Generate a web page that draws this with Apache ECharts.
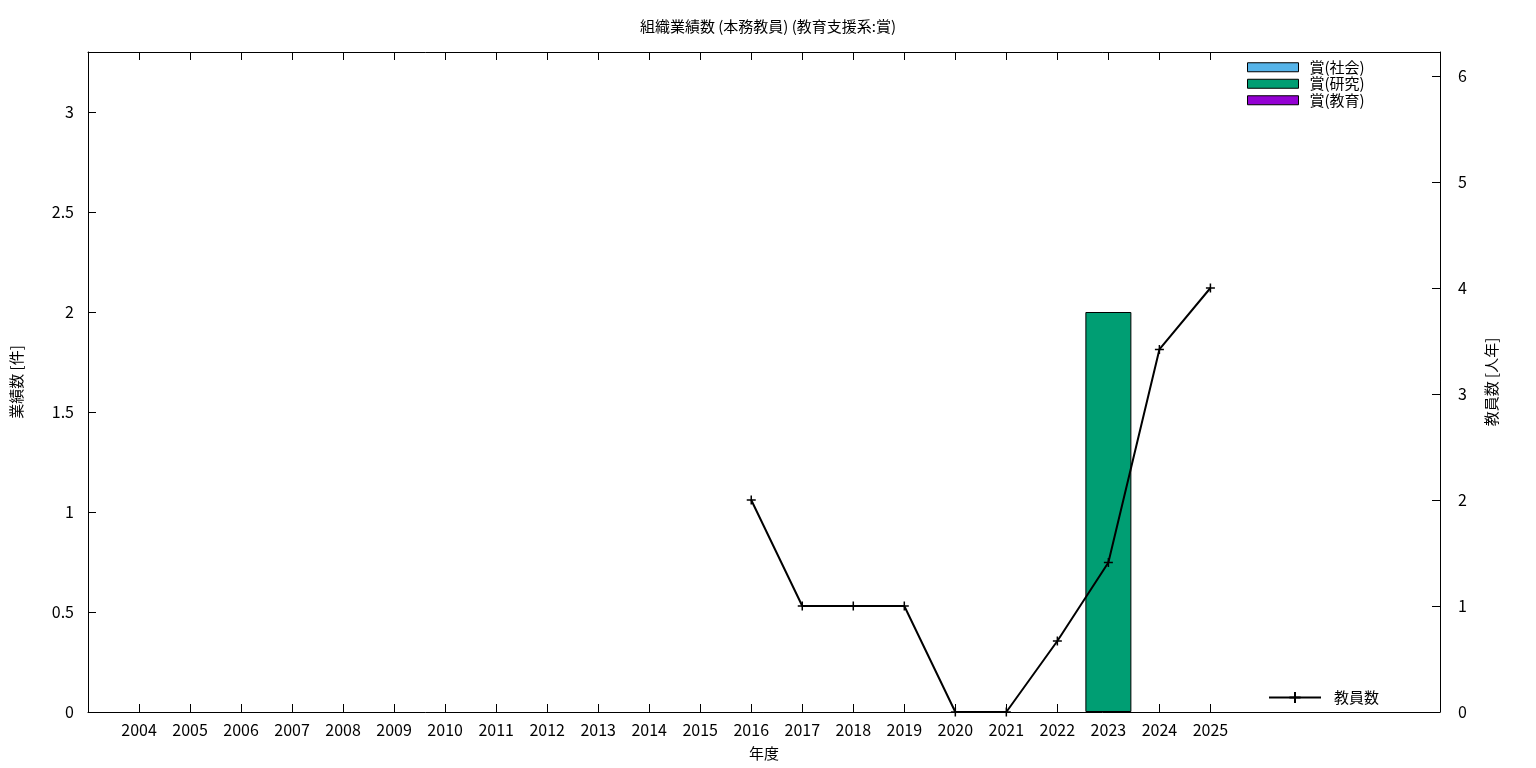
<!DOCTYPE html>
<html>
<head>
<meta charset="utf-8">
<script src="https://cdn.jsdelivr.net/npm/echarts@6/dist/echarts.min.js"></script>
<style>html,body{margin:0;padding:0;background:#fff;}#c{width:1536px;height:768px;}</style>
</head>
<body>
<div id="c"></div>
<script>
const years = [2004,2005,2006,2007,2008,2009,2010,2011,2012,2013,2014,2015,2016,2017,2018,2019,2020,2021,2022,2023,2024,2025];
const awardSocial   = [0,0,0,0,0,0,0,0,0,0,0,0,0,0,0,0,0,0,0,0,0,0];
const awardResearch = [0,0,0,0,0,0,0,0,0,0,0,0,0,0,0,0,0,0,0,2,0,0];
const awardEducation= [0,0,0,0,0,0,0,0,0,0,0,0,0,0,0,0,0,0,0,0,0,0];
const staffYears    = [null,null,null,null,null,null,null,null,null,null,null,null,2,1,1,1,0,0,0.67,1.41,3.42,4];
const leftTicks = [0,0.5,1,1.5,2,2.5,3];
const rightTicks = [0,1,2,3,4,5,6];

const FONT = '"Noto Sans CJK JP", "Noto Sans", sans-serif';
const pair = arr => years.map((y,i)=> arr[i] ? [y, arr[i]] : null).filter(d=>d);
const barSeries = (name, arr, color) => ({
  name, type:'bar', stack:'a', xAxisIndex:0, yAxisIndex:0, barWidth:46,
  data: pair(arr), itemStyle:{color, borderColor:'#000', borderWidth:1}
});

const chart = echarts.init(document.getElementById('c'));
chart.setOption({
  animation:false,
  textStyle:{fontFamily:FONT},
  title:{text:'組織業績数 (本務教員) (教育支援系:賞)', left:'center', top:14,
    textStyle:{fontSize:15, fontWeight:'normal', color:'#000', fontFamily:FONT}},
  grid:{left:88, right:96, top:52, bottom:56},
  legend:[
    {data:['賞(社会)','賞(研究)','賞(教育)'], orient:'vertical', left:1247, top:59, padding:0,
     itemWidth:51, itemHeight:9, itemGap:0, icon:'rect',
     itemStyle:{borderWidth:1, borderColor:'#000'},
     textStyle:{fontSize:15, lineHeight:16.5, color:'#000', fontFamily:FONT, padding:[0,0,0,6]}},
    {data:['教員数'], left:1268, top:690, padding:0, itemWidth:52, itemHeight:14,
     textStyle:{fontSize:15, color:'#000', fontFamily:FONT, padding:[0,0,0,8]}}
  ],
  xAxis:[
    {type:'value', min:2003, max:2029.5, interval:1, position:'bottom',
     name:'年度', nameLocation:'middle', nameGap:34,
     nameTextStyle:{fontSize:15, color:'#000', fontFamily:FONT},
     axisLine:{onZero:false, lineStyle:{color:'#000', width:1}},
     axisTick:{inside:true, length:8, customValues:years, lineStyle:{color:'#000'}},
     axisLabel:{customValues:years, formatter:v=>String(v), fontSize:16, color:'#000', margin:10, fontFamily:FONT},
     splitLine:{show:false}},
    {type:'value', min:2003, max:2029.5, interval:1, position:'top',
     axisLine:{show:true, onZero:false, lineStyle:{color:'#000', width:1}},
     axisTick:{show:true, inside:true, length:8, customValues:years, lineStyle:{color:'#000'}},
     axisLabel:{show:false}, splitLine:{show:false}}
  ],
  yAxis:[
    {type:'value', min:0, max:3.3, interval:0.5, position:'left',
     name:'業績数 [件]', nameLocation:'middle', nameGap:64, nameRotate:90,
     nameTextStyle:{fontSize:15, color:'#000', fontFamily:FONT},
     axisLine:{show:true, onZero:false, lineStyle:{color:'#000', width:1}},
     axisTick:{show:true, inside:true, length:8, customValues:leftTicks, lineStyle:{color:'#000'}},
     axisLabel:{customValues:leftTicks, formatter:v=>String(v), fontSize:16, color:'#000', margin:14, fontFamily:FONT},
     splitLine:{show:false}},
    {type:'value', min:0, max:660/106, interval:1, position:'right',
     name:'教員数 [人年]', nameLocation:'middle', nameGap:44, nameRotate:90,
     nameTextStyle:{fontSize:15, color:'#000', fontFamily:FONT},
     axisLine:{show:true, onZero:false, lineStyle:{color:'#000', width:1}},
     axisTick:{show:true, inside:true, length:8, customValues:rightTicks, lineStyle:{color:'#000'}},
     axisLabel:{customValues:rightTicks, formatter:v=>String(v), fontSize:16, color:'#000', margin:18, fontFamily:FONT},
     splitLine:{show:false}}
  ],
  series:[
    barSeries('賞(社会)', awardSocial, '#56b4e9'),
    barSeries('賞(研究)', awardResearch, '#009e73'),
    barSeries('賞(教育)', awardEducation, '#9400d3'),
    {name:'教員数', type:'line', xAxisIndex:0, yAxisIndex:1,
     data: years.map((y,i)=> staffYears[i]===null ? null : [y, staffYears[i]]).filter(d=>d),
     symbol:'path://M0,5L10,5M5,0L5,10', symbolSize:9, showSymbol:true,
     lineStyle:{color:'#000', width:2},
     itemStyle:{color:'#000', borderColor:'#000', borderWidth:1.5}, z:5}
  ]
});
</script>
</body>
</html>
